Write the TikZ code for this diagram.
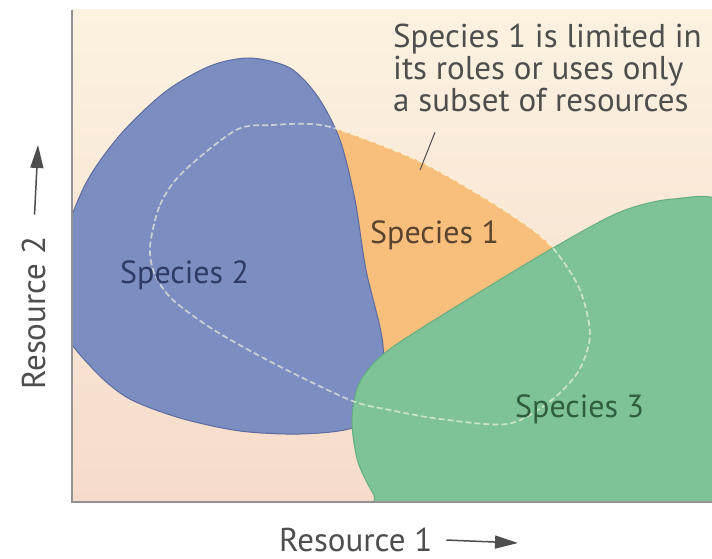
\documentclass[tikz,border=0pt]{standalone}
\usepackage{fontspec}
\setmainfont{PT Sans}
\usetikzlibrary{arrows.meta}
\definecolor{bgtop}{HTML}{FCF2E0}
\definecolor{bgbottom}{HTML}{F6DBCA}
\definecolor{spone}{HTML}{F8BF7C}
\definecolor{sptwo}{HTML}{7C8EC1}
\definecolor{spthree}{HTML}{7EC398}
\definecolor{sptwoedge}{HTML}{5C6C9F}
\definecolor{spthreeedge}{HTML}{62AE80}
\definecolor{inkone}{HTML}{5A4430}
\definecolor{inktwo}{HTML}{2E3B66}
\definecolor{inkthree}{HTML}{2F5E41}
\definecolor{inkgray}{HTML}{4E4E4E}
\begin{document}
\begin{tikzpicture}[x=1pt, y=-1pt,
    lbl/.style={font=\fontsize{32}{32}\selectfont, inner sep=0pt},
    axis/.style={draw=gray!85, line width=1.2pt},
    axisarrow/.style={draw=inkgray, line width=1.5pt, -{Triangle[length=23pt, width=13pt]}},
    fundamental/.style={draw=white!88!yellow, draw opacity=0.6, line width=1.7pt, dash pattern=on 6pt off 3pt}]
    \useasboundingbox (0,0) rectangle (712,559);
    \fill[white] (0,0) rectangle (712,559);
    \begin{scope}
        \clip (72,10) rectangle (712,502);
        \shade[top color=bgtop, bottom color=bgbottom] (72,10) rectangle (712,502);
        % species 1: fundamental niche, mostly covered by the other two
        \fill[spone] plot [smooth cycle] coordinates {(150,247) (160,205) (182,173) (236,130) (273,125) (310,124) (340,130) (417,160) (483,197) (533,230) (557,253) (580,290) (590,335) (578,372) (548,403) (507,424) (440,419) (390,410) (350,400) (273,363) (214,330) (173,300) (155,275)};
        \filldraw[fill=sptwo, draw=sptwoedge, line width=1pt] plot [smooth cycle] coordinates {(62,250) (85,185) (120,135) (165,92) (210,66) (250,58) (290,68) (318,97) (340,140) (355,200) (366,270) (383,345) (378,405) (352,428) (300,434) (240,431) (180,418) (128,398) (92,368) (62,325)};
        \filldraw[fill=spthree, draw=spthreeedge, line width=1pt] plot [smooth cycle] coordinates {(400,342) (470,298) (553,248) (620,212) (673,199) (725,205) (745,300) (740,530) (398,530) (374,495) (358,462) (352,422) (358,386) (375,362)};
        \draw[fundamental] plot [smooth cycle] coordinates {(150,247) (160,205) (182,173) (236,130) (273,125) (310,124) (340,130) (417,160) (483,197) (533,230) (557,253) (580,290) (590,335) (578,372) (548,403) (507,424) (440,419) (390,410) (350,400) (273,363) (214,330) (173,300) (155,275)};
    \end{scope}
    \draw[axis] (72,10) -- (72,502) -- (712,502);

    \node[lbl, text=inkone, anchor=base west] (one) at (370,243) {Species 1};
    \node[lbl, text=inktwo, anchor=base west] (two) at (120,283) {Species 2};
    \node[lbl, text=inkthree, anchor=base west] (three) at (515,417) {Species 3};

    \node[lbl, font=\fontsize{33}{32}\selectfont, text=inkgray, anchor=north west, align=left] (note) at (393,24) {Species 1 is limited in\\its roles or uses only\\a subset of resources};
    \coordinate (pin) at (420,170);
    \draw[inkgray, line width=1pt] ([shift={(42,20)}]note.south west) -- (pin);

    \node[lbl, font=\fontsize{33}{32}\selectfont, text=inkgray, anchor=base west] (resone) at (279,551) {Resource 1};
    \coordinate (resonetip) at (518,543);
    \draw[axisarrow, shorten <=14pt] (resone.east) -- (resonetip);
    \node[lbl, font=\fontsize{33}{32}\selectfont, text=inkgray, anchor=base west, rotate=90] (restwo) at (45,390) {Resource 2};
    \coordinate (restwotip) at (38,145);
    \draw[axisarrow, shorten <=22pt] (restwo.east) -- (restwotip);
\end{tikzpicture}
\end{document}
